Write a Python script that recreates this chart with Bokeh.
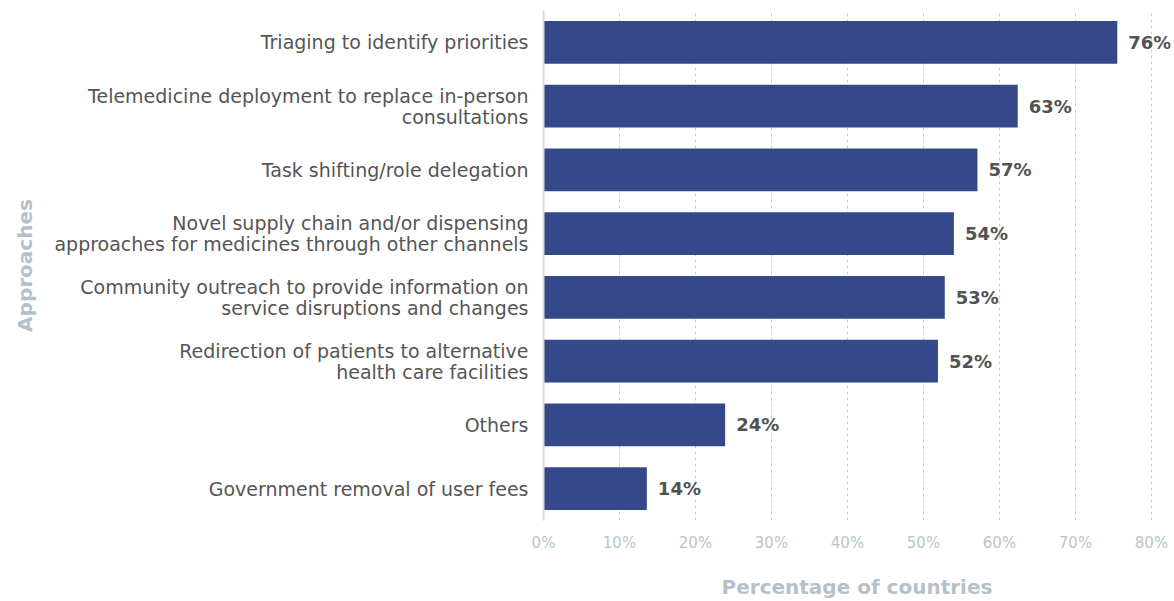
from bokeh.plotting import figure
from bokeh.models import (FactorRange, Range1d, FixedTicker, PrintfTickFormatter,
                          ColumnDataSource, LabelSet)
from bokeh.core.properties import value
from bokeh.embed import file_html
from bokeh.resources import INLINE

categories = [
    "Triaging to identify priorities",
    "Telemedicine deployment to replace in-person\nconsultations",
    "Task shifting/role delegation",
    "Novel supply chain and/or dispensing\napproaches for medicines through other channels",
    "Community outreach to provide information on\nservice disruptions and changes",
    "Redirection of patients to alternative\nhealth care facilities",
    "Others",
    "Government removal of user fees",
]
# bar lengths (percent of countries)
values = [75.5, 62.4, 57.1, 54.0, 52.8, 51.9, 23.9, 13.6]
# value labels as printed
value_labels = ["76%", "63%", "57%", "54%", "53%", "52%", "24%", "14%"]
x_ticks = [0, 10, 20, 30, 40, 50, 60, 70, 80]

FONT = "DejaVu Sans"
BAR = "#35488a"

src = ColumnDataSource(dict(cat=categories, val=values, lab=value_labels))

p = figure(
    width=1174, height=601,
    y_range=FactorRange(factors=list(reversed(categories)), range_padding=0),
    x_range=Range1d(0, 82.5),
    output_backend="svg", toolbar_location=None,
    min_border_left=543, min_border_right=4, min_border_top=10, min_border_bottom=10,
)
p.outline_line_color = None
p.background_fill_color = "white"
p.border_fill_color = "white"

p.hbar(y="cat", right="val", height=0.67, left=0, source=src,
       fill_color=BAR, line_color=None)

labels = LabelSet(x="val", y="cat", text="lab", source=src, x_offset=11,
                  text_baseline="middle", text_align="left",
                  text_font=value(FONT), text_font_size="18px", text_font_style="bold",
                  text_color="#525252")
p.add_layout(labels)

# grid
p.ygrid.grid_line_color = None
p.xgrid.ticker = FixedTicker(ticks=x_ticks)
p.xgrid.grid_line_color = "#c3ced6"
p.xgrid.grid_line_dash = "3 3"
p.xgrid.grid_line_width = 1

# x axis
p.xaxis.ticker = FixedTicker(ticks=x_ticks)
p.xaxis.formatter = PrintfTickFormatter(format="%d%%")
p.xaxis.axis_line_color = None
p.xaxis.major_tick_line_color = None
p.xaxis.minor_tick_line_color = None
p.xaxis.major_label_text_font = FONT
p.xaxis.major_label_text_font_size = "15px"
p.xaxis.major_label_text_color = "#b8c4cc"
p.xaxis.major_label_standoff = 7
p.xaxis.axis_label = "Percentage of countries"
p.xaxis.axis_label_text_font = FONT
p.xaxis.axis_label_text_font_size = "20px"
p.xaxis.axis_label_text_font_style = "bold"
p.xaxis.axis_label_text_color = "#b5c1ca"
p.xaxis.axis_label_standoff = 20

# y axis
p.yaxis.axis_line_color = "#dcdcdc"
p.yaxis.axis_line_width = 2
p.yaxis.major_tick_line_color = None
p.yaxis.minor_tick_line_color = None
p.yaxis.major_label_text_font = FONT
p.yaxis.major_label_text_font_size = "19px"
p.yaxis.major_label_text_color = "#555555"
p.yaxis.major_label_text_line_height = 0.96
p.yaxis.major_label_standoff = 9
p.yaxis.axis_label = "Approaches"
p.yaxis.axis_label_text_font = FONT
p.yaxis.axis_label_text_font_size = "20px"
p.yaxis.axis_label_text_font_style = "bold"
p.yaxis.axis_label_text_color = "#b5c1ca"
p.yaxis.axis_label_standoff = 14

open("out.html", "w").write(file_html(p, INLINE))
